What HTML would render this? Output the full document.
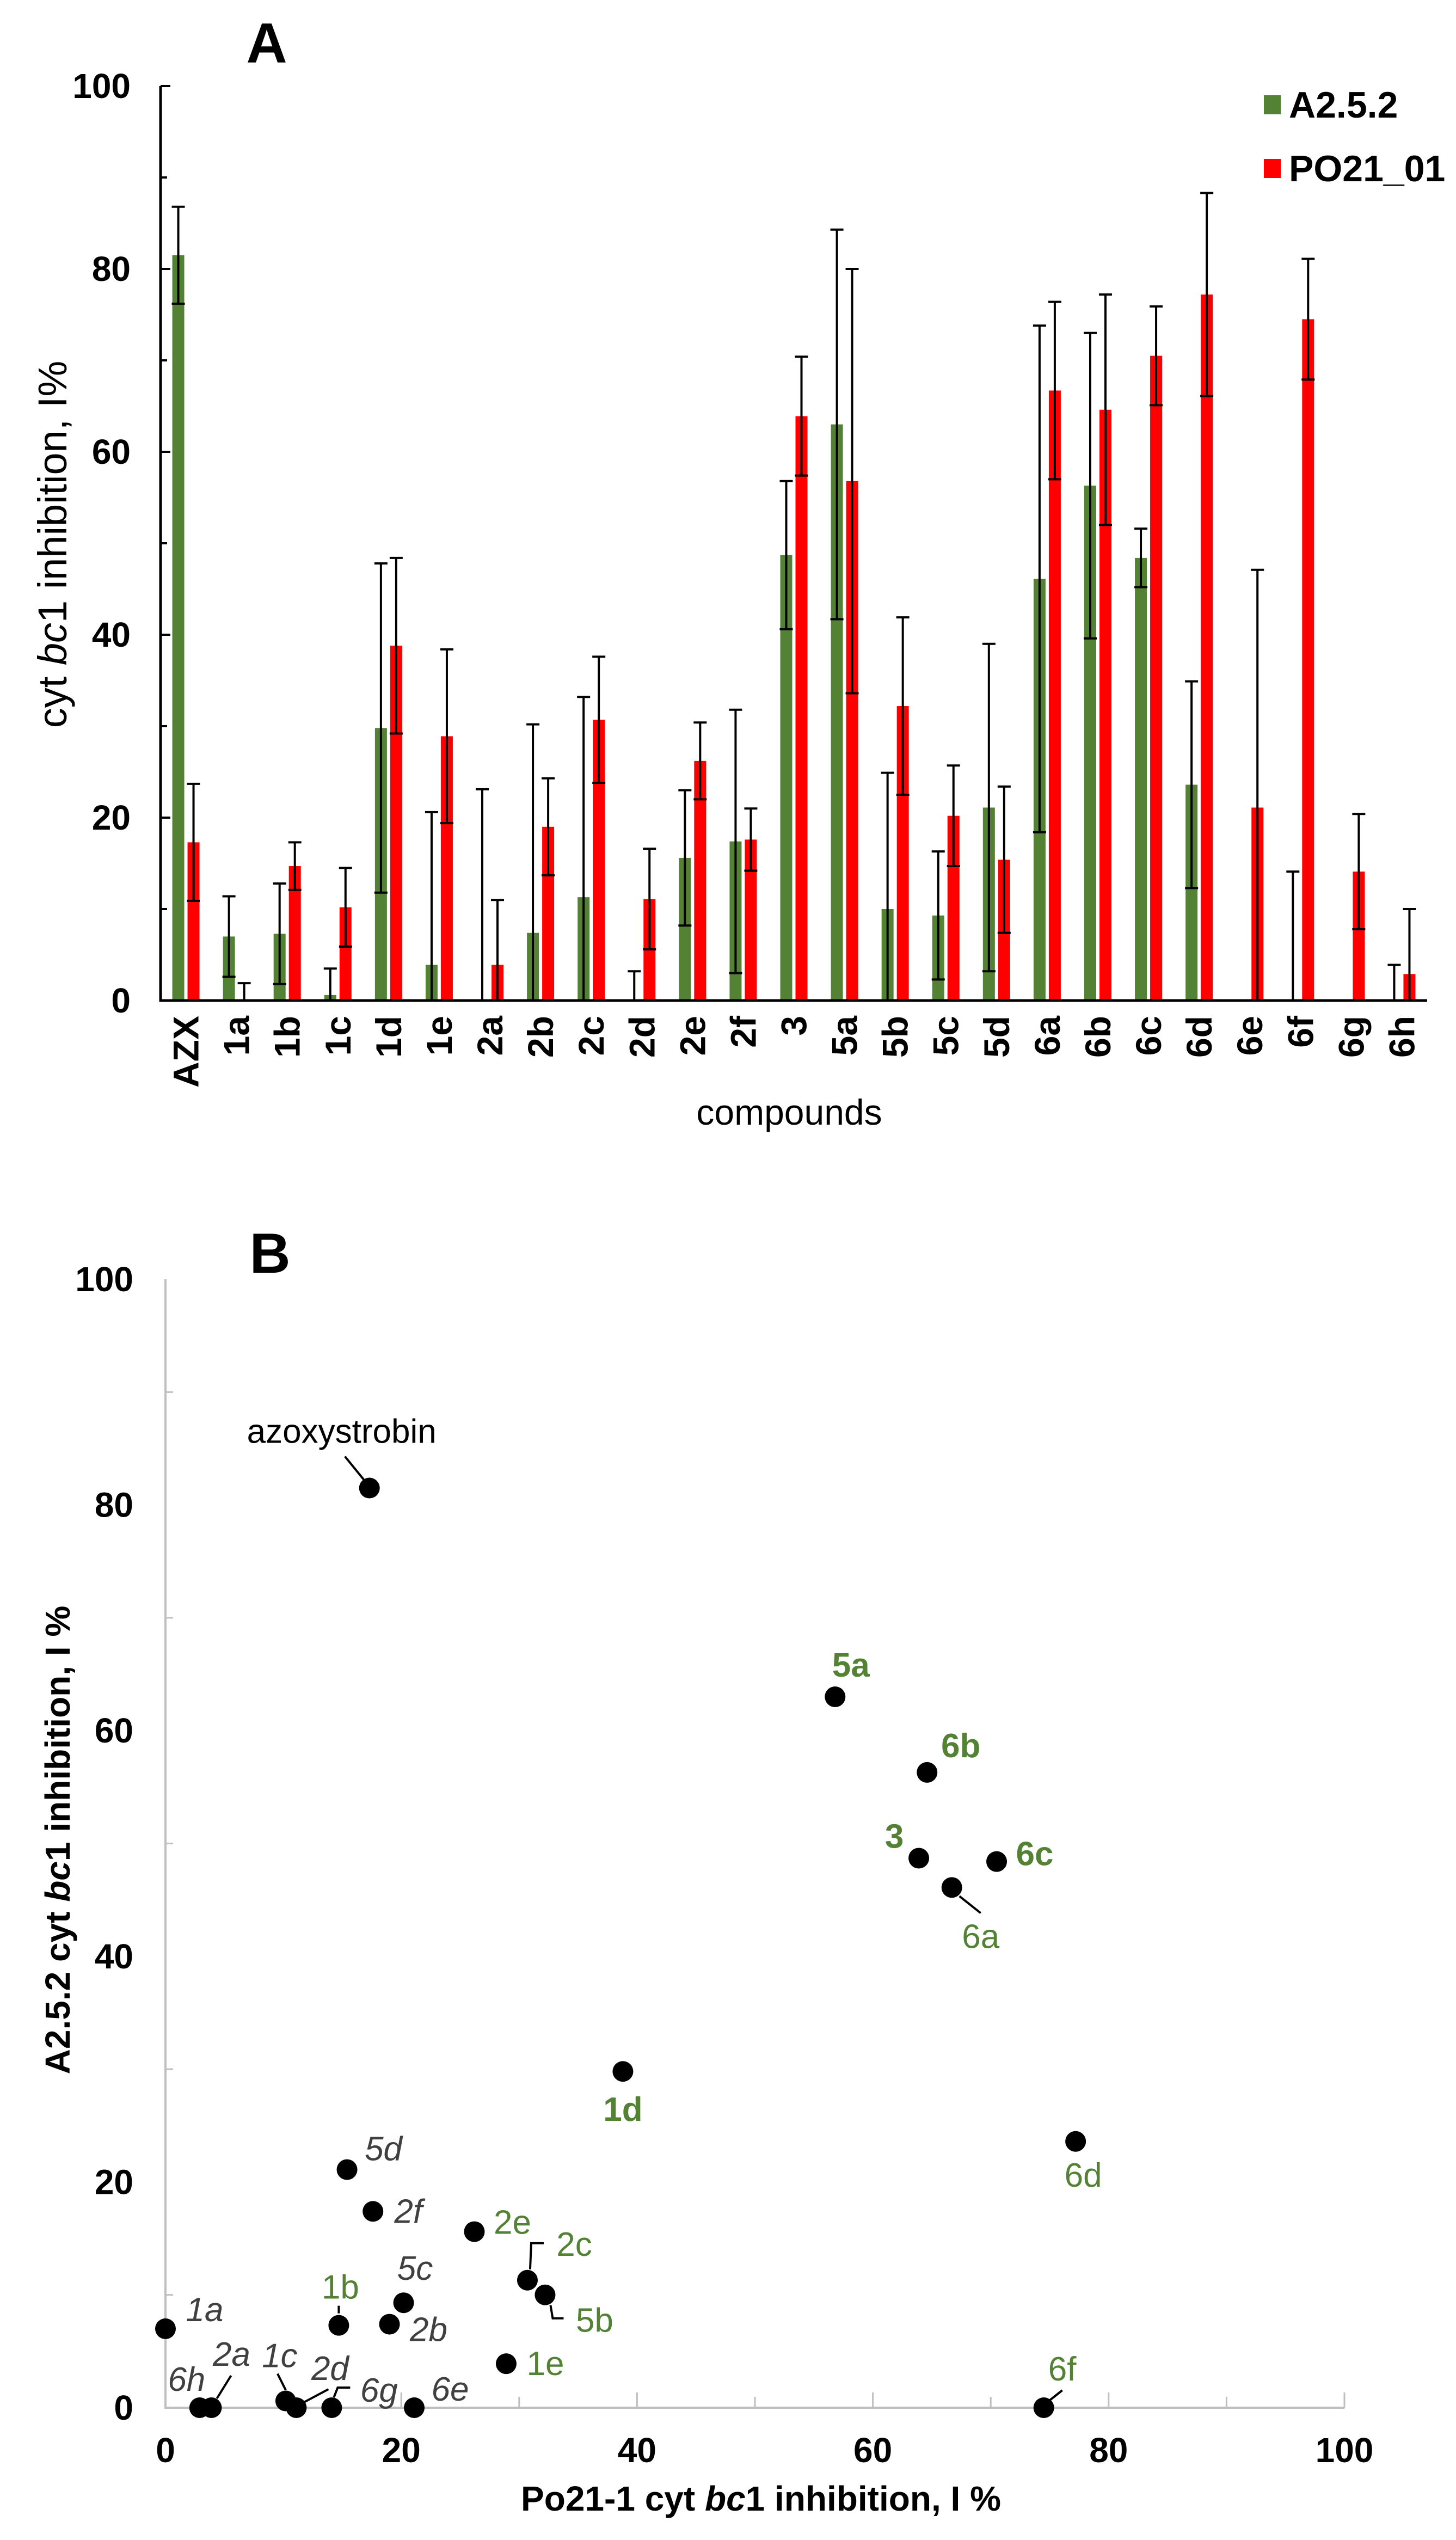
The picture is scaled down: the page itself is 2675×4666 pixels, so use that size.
<!DOCTYPE html>
<html><head><meta charset="utf-8">
<style>
html,body{margin:0;padding:0;background:#fff;}
svg{display:block;font-family:"Liberation Sans",Arial,sans-serif;}
</style></head>
<body>
<svg id="fig" width="2675" height="4666" viewBox="0 0 2675 4666" xmlns="http://www.w3.org/2000/svg">
<g id="chartA"></g>
<g id="chartB"></g>
</svg>
<script>
const categories=["AZX","1a","1b","1c","1d","1e","2a","2b","2c","2d","2e","2f","3","5a","5b","5c","5d","6a","6b","6c","6d","6e","6f","6g","6h"];
const greenValues=[81.5,7.0,7.3,0.6,29.8,3.9,0,7.4,11.3,0,15.6,17.4,48.7,63.0,10.0,9.3,21.1,46.1,56.3,48.4,23.6,0,0,0,0];
const greenErrors=[5.3,4.4,5.5,2.9,18.0,16.7,23.1,22.8,21.9,3.2,7.4,14.4,8.1,21.3,14.9,7.0,17.9,27.7,16.7,3.2,11.3,0,14.1,0,3.9];
const redValues=[17.3,0,14.7,10.2,38.8,28.9,3.9,19.0,30.7,11.1,26.2,17.6,63.9,56.8,32.2,20.2,15.4,66.7,64.6,70.5,77.2,21.1,74.5,14.1,2.9];
const redErrors=[6.4,1.9,2.6,4.3,9.6,9.5,7.1,5.3,6.9,5.5,4.2,3.4,6.5,23.2,9.7,5.5,8.0,9.7,12.6,5.4,11.1,26.0,6.6,6.3,7.1];
const yTicksA=[0,20,40,60,80,100];
const xTicksB=[0,20,40,60,80,100];
const yTicksB=[0,20,40,60,80,100];
const seriesNames=["A2.5.2","PO21_01"];
// scatter label styling (not data): [text,dx,dy,color,style,weight, leader offsets]
const labelStyle={
 "AZX":["azoxystrobin",-51,-104,"#000","normal","normal",[[-45,-58],[-6,-10]]],
 "5a":["5a",29,-58,"#548235","normal","bold",null],
 "6b":["6b",62,-49,"#548235","normal","bold",null],
 "3":["3",-45,-40,"#548235","normal","bold",null],
 "6c":["6c",70,-14,"#548235","normal","bold",null],
 "6a":["6a",53,90,"#548235","normal","normal",[[14,16],[53,47]]],
 "1d":["1d",0,70,"#548235","normal","bold",null],
 "6d":["6d",14,62,"#548235","normal","normal",null],
 "5d":["5d",67,-38,"#404040","italic","normal",null],
 "2f":["2f",65,0,"#404040","italic","normal",null],
 "2e":["2e",70,-17,"#548235","normal","normal",null],
 "2c":["2c",86,-66,"#548235","normal","normal",[[5,-20],[7,-68],[30,-68]]],
 "5b":["5b",91,47,"#548235","normal","normal",[[10,19],[14,43],[34,43]]],
 "5c":["5c",21,-63,"#404040","italic","normal",null],
 "1b":["1b",3,-70,"#548235","normal","normal",[[0,-36],[0,-22]]],
 "2b":["2b",72,10,"#404040","italic","normal",null],
 "1a":["1a",72,-35,"#404040","italic","normal",null],
 "1e":["1e",72,0,"#548235","normal","normal",null],
 "6f":["6f",34,-71,"#548235","normal","normal",[[10,-13],[34,-32]]],
 "6h":["6h",-24,-52,"#404040","italic","normal",null],
 "2a":["2a",37,-98,"#404040","italic","normal",[[10,-17],[36,-59]]],
 "1c":["1c",-11,-83,"#404040","italic","normal",[[0,-20],[-15,-50]]],
 "2d":["2d",62,-72,"#404040","italic","normal",[[14,-10],[59,-34]]],
 "6g":["6g",87,-32,"#404040","italic","normal",[[4,-19],[11,-37],[34,-37]]],
 "6e":["6e",66,-34,"#404040","italic","normal",null]
};
const NS="http://www.w3.org/2000/svg";
function mk(parent,tag,attrs,text){const e=document.createElementNS(NS,tag);for(const k in attrs)e.setAttribute(k,attrs[k]);if(text!==undefined)e.textContent=text;parent.appendChild(e);return e;}
const GREEN="#548235",RED="#ff0000";
// ---------- Chart A ----------
const A=document.getElementById("chartA");
const axL=295,axR=2622,y0A=1838,y100A=158;
const yA=v=>y0A-(y0A-y100A)*v/100;
const groupW=(axR-axL)/categories.length;
const gx=i=>axL+groupW*(i+0.5);
categories.forEach((cat,i)=>{
  const c=gx(i);
  const g=mk(A,"g",{});
  
  
  [[greenValues,greenErrors,GREEN,-14],[redValues,redErrors,RED,14]].forEach(([vals,errs,col,off],s)=>{
    const v=vals[i],e=errs[i],x=c+off;
    const r=mk(g,"rect",{x:x-11,y:yA(v),width:22,height:Math.max(0,yA(0)-yA(v)),fill:col});
    
    
    if(e>0){
      const top=yA(v+e),bot=yA(Math.max(0,v-e));
      const eb=mk(g,"path",{d:`M${x} ${top}V${bot}M${x-12} ${top}H${x+12}`+(v-e>0?`M${x-12} ${bot}H${x+12}`:''),stroke:"#000","stroke-width":4,fill:"none"});
      
      
    }
  });
  const t=mk(A,"text",{x:0,y:0,transform:`translate(${c+23},1866) rotate(-90)`,"text-anchor":"end","font-size":66,"font-weight":"bold"},cat);
  
  
});
const axA=mk(A,"path",{d:`M${axL} ${y100A}V${y0A}H${axR}`,stroke:"#000","stroke-width":5,fill:"none"});


for(let v=10;v<=100;v+=10){
  const tk=mk(A,"line",{x1:axL,x2:axL+(v%20===0?18:12),y1:yA(v),y2:yA(v),stroke:"#000","stroke-width":4});
  
  
}
yTicksA.forEach(v=>{
  const t=mk(A,"text",{x:240,y:yA(v)+22,"text-anchor":"end","font-size":64,"font-weight":"bold"},String(v));
  
  
});
let t;
t=mk(A,"text",{x:490,y:115,"text-anchor":"middle","font-size":104,"font-weight":"bold"},"A");


t=mk(A,"text",{x:1450,y:2066,"text-anchor":"middle","font-size":66},"compounds");


t=mk(A,"text",{x:0,y:0,transform:"translate(122,1000) rotate(-90)","text-anchor":"middle","font-size":74});


t.innerHTML='cyt <tspan font-style="italic">bc</tspan>1 inhibition, I%';
[[GREEN,0],[RED,1]].forEach(([col,k])=>{
  const y=192+k*117;
  const lg=mk(A,"g",{});
  
  
  mk(lg,"rect",{x:2322,y:y-17,width:31,height:35,fill:col});
  mk(lg,"text",{x:2368,y:y+24,"font-size":68,"font-weight":"bold"},seriesNames[k]);
});
// ---------- Chart B ----------
const B=document.getElementById("chartB");
const bx0=304,bx100=2470,by0=4423,by100=2350;
const xB=v=>bx0+(bx100-bx0)*v/100;
const yB=v=>by0-(by0-by100)*v/100;
const axB=mk(B,"path",{d:`M${bx0} ${by100}V${by0}H${bx100}`,stroke:"#bfbfbf","stroke-width":4,fill:"none"});


for(let v=10;v<=100;v+=10){
  const a=mk(B,"line",{x1:xB(v),x2:xB(v),y1:by0,y2:by0-(v%20===0?28:20),stroke:"#bfbfbf","stroke-width":3});
  
  
  const b=mk(B,"line",{x1:bx0,x2:bx0+(v%20===0?0:14),y1:yB(v),y2:yB(v),stroke:"#bfbfbf","stroke-width":3});
  
  
}
xTicksB.forEach(v=>{
  const tt=mk(B,"text",{x:xB(v),y:4523,"text-anchor":"middle","font-size":64,"font-weight":"bold"},String(v));
  
  
});
yTicksB.forEach(v=>{
  const tt=mk(B,"text",{x:245,y:yB(v)+22,"text-anchor":"end","font-size":64,"font-weight":"bold"},String(v));
  
  
});
t=mk(B,"text",{x:496,y:2338,"text-anchor":"middle","font-size":104,"font-weight":"bold"},"B");


t=mk(B,"text",{x:1398,y:4612,"text-anchor":"middle","font-size":64,"font-weight":"bold"});


t.innerHTML='Po21-1 cyt <tspan font-style="italic">bc</tspan>1 inhibition, I %';
t=mk(B,"text",{x:0,y:0,transform:"translate(128,3380) rotate(-90)","text-anchor":"middle","font-size":64,"font-weight":"bold"});


t.innerHTML='A2.5.2 cyt <tspan font-style="italic">bc</tspan>1 inhibition, I %';
categories.forEach((cat,i)=>{
  const px=xB(redValues[i]),py=yB(greenValues[i]);
  const st=labelStyle[cat];
  if(st&&st[6]){
    const pts=st[6].map(p=>(px+p[0])+' '+(py+p[1])).join(' L');
    const ld=mk(B,"path",{d:'M'+pts,stroke:"#000","stroke-width":4,fill:"none"});
    
    
  }
  const d=mk(B,"circle",{cx:px,cy:py,r:19,fill:"#000"});
  
  
  if(st){
    const lb=mk(B,"text",{x:px+st[1],y:py+st[2]+21,"text-anchor":"middle","font-size":62,fill:st[3],"font-style":st[4],"font-weight":st[5]},st[0]);
    
    
  }
});
</script>
</body></html>
